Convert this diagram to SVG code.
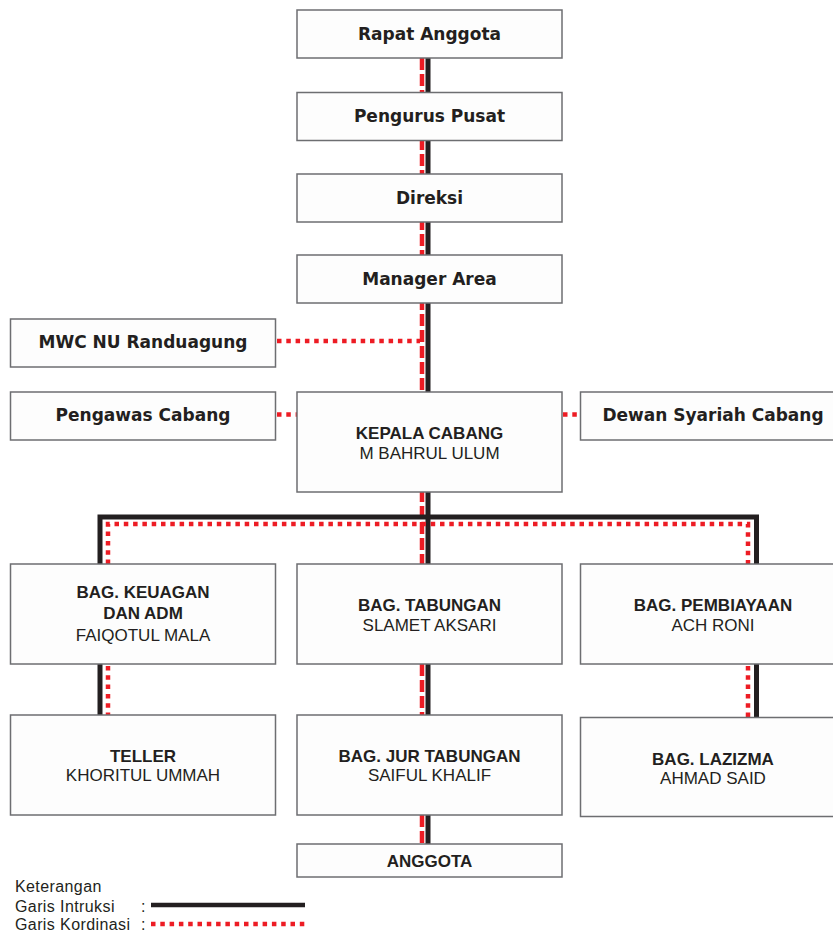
<svg xmlns="http://www.w3.org/2000/svg" width="833" height="934" viewBox="0 0 833 934">
<style>
.box{fill:#fdfdfd;stroke:#6d6e71;stroke-width:1.5}
.hv{font-family:"DejaVu Sans",sans-serif;font-weight:bold;font-size:17px;fill:#231f20;text-anchor:middle}
.tb{font-family:"Liberation Sans",Arial,sans-serif;font-weight:bold;font-size:17px;fill:#231f20;text-anchor:middle}
.tn{font-family:"Liberation Sans",Arial,sans-serif;font-size:17px;fill:#231f20;text-anchor:middle}
.lg{font-family:"Liberation Sans",Arial,sans-serif;font-size:16px;fill:#231f20;letter-spacing:0.4px}
.blk{fill:none;stroke:#231f20;stroke-width:5;stroke-linejoin:miter}
.dash{fill:none;stroke:#ed1c24;stroke-width:4.5;stroke-dasharray:12 4}
.dot{fill:none;stroke:#ed1c24;stroke-width:4.5;stroke-dasharray:4.5 4.8}
</style>
<rect width="833" height="934" fill="#ffffff"/>
<g id="connectors">
<line class="blk" x1="428" y1="58" x2="428" y2="564"/>
<line class="dash" x1="422" y1="58" x2="422" y2="564"/>
<polyline class="blk" points="100,564 100,517 756.5,517 756.5,564"/>
<polyline class="dot" points="108,564 108,524 748,524 748,564"/>
<line class="dot" x1="277" y1="341" x2="420" y2="341"/>
<line class="dot" x1="277" y1="414.5" x2="297" y2="414.5"/>
<line class="dot" x1="563" y1="414.5" x2="580" y2="414.5"/>
<line class="blk" x1="100" y1="664" x2="100" y2="715"/>
<line class="dot" x1="108" y1="666" x2="108" y2="715"/>
<line class="blk" x1="428" y1="664" x2="428" y2="715"/>
<line class="dash" x1="422" y1="664" x2="422" y2="715"/>
<line class="blk" x1="756.5" y1="664" x2="756.5" y2="717"/>
<line class="dot" x1="748" y1="666" x2="748" y2="717"/>
<line class="blk" x1="428" y1="815" x2="428" y2="844"/>
<line class="dash" x1="422" y1="815" x2="422" y2="844"/>
</g>
<g id="rapat-anggota"><rect class="box" x="297" y="10" width="265" height="48"/><text class="hv" x="429.5" y="39.5">Rapat Anggota</text></g>
<g id="pengurus-pusat"><rect class="box" x="297" y="92.5" width="265" height="48"/><text class="hv" x="429.5" y="122">Pengurus Pusat</text></g>
<g id="direksi"><rect class="box" x="297" y="174" width="265" height="48"/><text class="hv" x="429.5" y="203.5">Direksi</text></g>
<g id="manager-area"><rect class="box" x="297" y="255" width="265" height="48"/><text class="hv" x="429.5" y="284.5">Manager Area</text></g>
<g id="mwc"><rect class="box" x="10.5" y="319" width="265" height="48"/><text class="hv" x="143" y="347.5">MWC NU Randuagung</text></g>
<g id="pengawas"><rect class="box" x="10.5" y="392" width="265" height="48"/><text class="hv" x="143" y="421">Pengawas Cabang</text></g>
<g id="kepala-cabang"><rect class="box" x="297" y="392" width="265" height="100"/><text class="tb" x="429.5" y="439.3">KEPALA CABANG</text><text class="tn" x="429.5" y="458.5">M BAHRUL ULUM</text></g>
<g id="dewan-syariah"><rect class="box" x="580.5" y="392" width="265" height="48"/><text class="hv" x="713" y="421">Dewan Syariah Cabang</text></g>
<g id="bag-keuangan"><rect class="box" x="10.5" y="564" width="265" height="100"/><text class="tb" x="143" y="598.3">BAG. KEUAGAN</text><text class="tb" x="143" y="619">DAN ADM</text><text class="tn" x="143" y="641">FAIQOTUL MALA</text></g>
<g id="bag-tabungan"><rect class="box" x="297" y="564" width="265" height="100"/><text class="tb" x="429.5" y="611">BAG. TABUNGAN</text><text class="tn" x="429.5" y="630.5">SLAMET AKSARI</text></g>
<g id="bag-pembiayaan"><rect class="box" x="580.5" y="564" width="265" height="100"/><text class="tb" x="713" y="611">BAG. PEMBIAYAAN</text><text class="tn" x="713" y="630.5">ACH RONI</text></g>
<g id="teller"><rect class="box" x="10.5" y="715" width="265" height="100"/><text class="tb" x="143" y="762">TELLER</text><text class="tn" x="143" y="781">KHORITUL UMMAH</text></g>
<g id="bag-jur-tabungan"><rect class="box" x="297" y="715" width="265" height="100"/><text class="tb" x="429.5" y="762">BAG. JUR TABUNGAN</text><text class="tn" x="429.5" y="781">SAIFUL KHALIF</text></g>
<g id="bag-lazizma"><rect class="box" x="580.5" y="717.5" width="265" height="99"/><text class="tb" x="713" y="764.5">BAG. LAZIZMA</text><text class="tn" x="713" y="783.5">AHMAD SAID</text></g>
<g id="anggota"><rect class="box" x="297" y="844" width="265" height="33"/><text class="tb" x="429.5" y="866.5">ANGGOTA</text></g>
<g id="legend">
<text class="lg" x="15" y="892">Keterangan</text>
<text class="lg" x="15" y="911.5">Garis Intruksi</text>
<text class="lg" x="15" y="930">Garis Kordinasi</text>
<text class="lg" x="141" y="911.5">:</text>
<text class="lg" x="141" y="930">:</text>
<line x1="151" y1="905" x2="305" y2="905" stroke="#231f20" stroke-width="4.5"/>
<line class="dot" x1="151" y1="924" x2="305" y2="924"/>
</g>
</svg>
